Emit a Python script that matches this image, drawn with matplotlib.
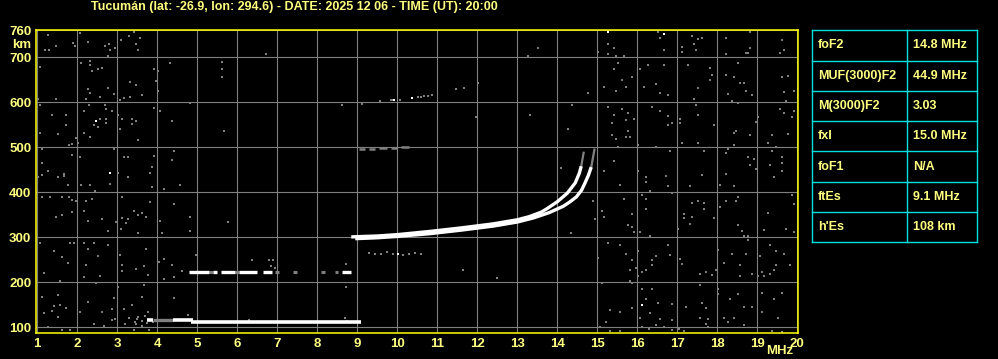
import matplotlib
matplotlib.use("Agg")
import matplotlib.pyplot as plt

# ---------------- data ----------------
title = "Tucumán (lat: -26.9, lon: 294.6) - DATE: 2025 12 06 - TIME (UT): 20:00"

freq_ticks = list(range(1, 21))
height_ticks = [100, 200, 300, 400, 500, 600, 700, 760]

param_names = ["foF2", "MUF(3000)F2", "M(3000)F2", "fxI", "foF1", "ftEs", "h'Es"]
param_values = ["14.8 MHz", "44.9 MHz", "3.03", "15.0 MHz", "N/A", "9.1 MHz", "108 km"]

# F2 trace, ordinary and extraordinary components
o_freq = [8.85, 9.5, 10.0, 10.8, 11.6, 12.4, 13.0, 13.3, 13.6, 13.75, 14.0, 14.25, 14.45, 14.55, 14.6]
o_height = [301, 303, 306, 313, 321, 330, 339, 346, 356, 364, 379, 398, 421, 442, 458]
x_freq = [8.95, 9.5, 10.0, 10.8, 11.6, 12.4, 13.0, 13.4, 13.8, 14.15, 14.32, 14.48, 14.61, 14.69, 14.78, 14.85]
x_height = [297, 299, 302, 308, 316, 325, 334, 343, 355, 369, 379, 390, 405, 420, 438, 456]
# faint tops of the cusps
cusp_freq = [[14.6, 14.66], [14.85, 14.93]]
cusp_height = [[458, 488], [456, 495]]

# Es / E traces (white segments)
e_start = [3.75, 4.4, 4.85]
e_end = [3.9, 4.9, 9.1]
e_height = [116, 116, 111]
e_grey_start = [3.9]
e_grey_end = [4.4]
e_grey_height = [117]

# second Es echo around 222 km
es2_start = [4.8, 5.4, 5.6, 6.05, 6.65, 8.63]
es2_end = [5.3, 5.5, 5.95, 6.5, 6.87, 8.85]
es2_grey_start = [5.3, 5.95, 6.95, 7.4, 8.1, 8.45]
es2_grey_end = [5.4, 6.05, 7.05, 7.5, 8.2, 8.52]
es2_height = 222

# faint F2 multiples
f2m_start = [9.05, 9.3, 9.55, 9.85, 10.1]
f2m_end = [9.2, 9.45, 9.75, 10.0, 10.3]
f2m_height = [497, 497, 498, 499, 500]
f3m_freq = [9.85, 9.9, 10.08, 10.51, 10.6, 10.68, 10.78, 10.88]
f3m_height = [605, 605, 605, 612, 613, 615, 615, 616]
ghost_freq = [9.3, 9.45, 9.6, 9.75, 9.9, 10.15, 10.3, 10.45, 10.6]
ghost_height = [265, 262, 262, 268, 262, 260, 262, 266, 262]

white_dots = [(2.48, 559), (2.83, 443), (16.13, 150), (16.67, 752), (15.28, 757),
              (9.93, 605), (10.38, 610), (10.03, 262)]

noise_pts = [
    (1.28, 750), (1.19, 717), (1.29, 717), (1.48, 726), (1.89, 733), (1.94, 726), (2.07, 754),
    (2.28, 735), (2.69, 726), (2.79, 730), (2.83, 717), (2.78, 704), (2.94, 721), (3.09, 739),
    (3.29, 748), (3.43, 757), (3.58, 743), (3.48, 730), (3.53, 717), (1.08, 679), (2.09, 688),
    (2.33, 693), (2.33, 684), (2.38, 670), (2.51, 675), (2.63, 677), (3.33, 646), (3.48, 639),
    (2.78, 632), (2.28, 630), (2.33, 621), (2.93, 619), (2.58, 612), (2.21, 607), (3.08, 606),
    (3.18, 610), (3.33, 611), (3.63, 617), (3.93, 674), (4.03, 670), (3.98, 648), (4.03, 625),
    (4.33, 688), (1.03, 607), (1.48, 607), (1.08, 594), (1.38, 572), (1.73, 572), (1.73, 550),
    (1.53, 530), (1.08, 532), (1.98, 520), (1.88, 507), (1.79, 505), (2.02, 510), (2.18, 581),
    (2.29, 594), (2.69, 594), (2.73, 585), (2.88, 581), (2.73, 564), (2.73, 554), (2.58, 563),
    (2.43, 550), (2.53, 545), (2.18, 532), (2.33, 524), (3.03, 572), (3.13, 563), (3.38, 563),
    (3.38, 552), (3.48, 559), (3.08, 541), (3.53, 516), (3.93, 587), (4.08, 581), (4.38, 559),
    (4.83, 599), (1.13, 496), (1.13, 465), (1.28, 447), (1.13, 439), (1.03, 434), (1.53, 434),
    (1.68, 441), (1.68, 436), (1.88, 483), (2.08, 479), (2.93, 496), (3.18, 479), (3.28, 479),
    (3.03, 443), (3.28, 434), (3.93, 481), (3.88, 456), (3.83, 443), (4.43, 492), (4.38, 473),
    (1.78, 417), (2.09, 417), (2.33, 417), (2.83, 419), (3.88, 411), (4.18, 408), (4.58, 417),
    (2.44, 404), (1.13, 390), (1.33, 390), (1.63, 390), (1.79, 389), (1.88, 384), (1.98, 381),
    (2.23, 381), (2.38, 386), (3.13, 390), (3.83, 379), (4.43, 373), (1.48, 346), (1.63, 349),
    (1.88, 357), (2.18, 359), (2.28, 337), (2.63, 341), (2.78, 315), (2.96, 335), (3.13, 344),
    (3.23, 331), (3.28, 341), (3.09, 319), (3.43, 359), (3.53, 350), (3.63, 355), (3.73, 346),
    (3.53, 310), (4.08, 337), (4.13, 310), (4.83, 346), (4.83, 315), (1.08, 288), (1.43, 270),
    (1.63, 257), (1.83, 287), (1.93, 288), (2.18, 288), (2.28, 274), (2.43, 288), (2.53, 258),
    (2.78, 284), (1.78, 244), (1.18, 221), (2.23, 239), (2.18, 212), (2.58, 214), (3.08, 261),
    (3.13, 239), (3.13, 226), (3.48, 230), (3.68, 236), (3.73, 273), (3.78, 217), (4.04, 245),
    (4.18, 252), (4.18, 208), (4.38, 239), (4.43, 212), (4.63, 226), (1.58, 204), (2.48, 199),
    (3.03, 190), (3.68, 195), (1.13, 168), (1.53, 172), (1.43, 147), (1.18, 131), (1.38, 137),
    (1.58, 150), (1.73, 144), (1.53, 124), (2.08, 135), (2.28, 156), (2.63, 135), (2.88, 141),
    (2.93, 166), (3.18, 141), (3.38, 149), (3.63, 168), (3.78, 134), (3.53, 124), (4.43, 166),
    (4.78, 128), (1.28, 100), (1.63, 94), (1.83, 94), (2.43, 107), (2.68, 104), (2.88, 116),
    (3.19, 107), (3.46, 107), (3.63, 104), (3.43, 94), (3.79, 94), (3.45, 112), (3.5, 118),
    (3.3, 120), (3.7, 125), (3.9, 112), (2.95, 119), (3.62, 113), (3.74, 110), (4.1, 117),
    (15.28, 730), (15.43, 721), (15.03, 713), (15.28, 708), (15.48, 704), (15.68, 704),
    (16.52, 757), (16.58, 744), (16.68, 717), (17.13, 723), (17.13, 713), (17.38, 748),
    (17.43, 729), (17.53, 741), (17.63, 744), (17.48, 717), (18.23, 744), (18.23, 708),
    (18.71, 710), (18.76, 710), (18.83, 721), (18.83, 757), (19.63, 739), (19.68, 717),
    (19.58, 710), (15.53, 687), (15.43, 675), (15.63, 650), (15.88, 656), (15.18, 634),
    (15.48, 625), (15.73, 634), (16.08, 674), (16.28, 684), (16.68, 684), (16.18, 634),
    (16.48, 641), (16.58, 621), (16.78, 616), (17.28, 684), (17.83, 677), (17.83, 650),
    (17.88, 661), (17.53, 631), (17.43, 607), (18.23, 661), (18.43, 656), (18.52, 687),
    (18.58, 643), (18.68, 643), (18.28, 619), (18.73, 625), (18.88, 616), (18.38, 603),
    (18.53, 599), (19.63, 656), (19.78, 659), (19.68, 624), (19.93, 625), (19.73, 603),
    (15.28, 590), (15.43, 572), (15.63, 585), (15.78, 576), (15.73, 561), (15.38, 554),
    (15.93, 563), (15.78, 537), (15.38, 527), (15.48, 519), (15.73, 523), (15.83, 523),
    (16.38, 590), (16.58, 581), (16.78, 570), (16.88, 554), (16.78, 550), (17.08, 563),
    (17.08, 554), (17.53, 572), (17.48, 594), (17.93, 550), (17.13, 510), (17.53, 510),
    (18.43, 532), (18.48, 537), (18.83, 527), (18.43, 506), (19.03, 567), (18.98, 557),
    (19.58, 585), (19.68, 576), (19.88, 567), (19.93, 580), (19.38, 527), (19.28, 510),
    (19.78, 530), (16.03, 506), (15.53, 501), (15.43, 470), (15.18, 447), (16.03, 447),
    (16.23, 434), (16.73, 437), (16.83, 492), (16.48, 501), (17.68, 492), (17.63, 438),
    (18.23, 488), (18.28, 496), (18.23, 441), (18.78, 479), (18.93, 475), (18.83, 461),
    (19.38, 492), (19.48, 501), (19.63, 479), (19.63, 466), (19.63, 447), (19.33, 461),
    (19.43, 434), (18.98, 452), (15.58, 417), (16.23, 424), (16.33, 404), (16.78, 413),
    (16.88, 398), (17.33, 413), (18.08, 417), (18.43, 413), (16.13, 395), (16.23, 386),
    (15.68, 386), (15.13, 358), (15.18, 346), (15.88, 351), (15.78, 327), (15.88, 324),
    (15.93, 311), (16.08, 311), (16.23, 362), (16.33, 303), (17.03, 318), (17.18, 351),
    (17.18, 342), (17.38, 345), (17.33, 329), (17.38, 377), (17.53, 381), (17.68, 376),
    (17.68, 364), (17.93, 342), (18.08, 368), (18.23, 381), (18.48, 381), (18.53, 390),
    (18.53, 327), (18.63, 313), (18.68, 302), (18.78, 302), (18.78, 293), (19.18, 316),
    (19.28, 353), (19.73, 318), (19.88, 395), (19.93, 374), (19.93, 311), (15.28, 288),
    (15.58, 284), (15.73, 262), (15.03, 254), (15.88, 250), (15.83, 228), (15.98, 232),
    (16.03, 270), (16.03, 214), (16.13, 223), (16.23, 228), (16.38, 250), (16.38, 239),
    (16.48, 258), (16.78, 284), (16.83, 261), (17.08, 252), (17.13, 241), (17.58, 218),
    (17.73, 223), (17.88, 216), (17.98, 227), (18.03, 271), (18.18, 244), (18.38, 262),
    (18.58, 239), (18.58, 214), (18.73, 262), (18.88, 218), (19.03, 214), (19.08, 259),
    (19.13, 223), (19.18, 214), (19.33, 218), (19.33, 284), (19.48, 270), (19.43, 228),
    (19.48, 239), (19.68, 262), (19.83, 239), (15.13, 199), (15.83, 203), (15.88, 199),
    (16.13, 186), (16.23, 164), (16.38, 186), (16.53, 155), (16.88, 152), (17.23, 146),
    (17.58, 195), (17.63, 153), (17.73, 142), (18.03, 186), (18.03, 175), (18.33, 164),
    (18.53, 173), (18.68, 146), (18.88, 146), (19.13, 176), (19.43, 164), (19.63, 176),
    (15.33, 138), (15.58, 133), (15.88, 142), (16.33, 132), (16.08, 120), (16.13, 100),
    (16.58, 118), (16.48, 105), (16.88, 116), (16.68, 100), (17.58, 120), (17.78, 118),
    (17.78, 100), (18.18, 120), (18.28, 111), (18.43, 120), (18.68, 105), (19.13, 133),
    (19.53, 120), (15.23, 111), (15.08, 100), (15.33, 91), (15.58, 91), (16.88, 93),
    (17.18, 91), (19.38, 91), (19.63, 89), (16.3, 96), (17.05, 96), (17.72, 108),
    (6.73, 708), (5.63, 690), (5.63, 674), (5.63, 656), (5.68, 537), (8.63, 594), (9.13, 596),
    (9.58, 603), (9.88, 605), (10.08, 605), (10.68, 615), (11.48, 630), (11.68, 633),
    (12.03, 644), (13.28, 704), (13.53, 721), (11.98, 567), (13.33, 572), (14.28, 540),
    (14.38, 594), (14.78, 620), (6.38, 249), (6.8, 249), (6.9, 249), (6.85, 236), (6.95, 232),
    (5.78, 334), (8.73, 240), (8.73, 190), (4.96, 260), (8.7, 120), (8.75, 114), (6.3, 116),
    (11.65, 228), (12.5, 210), (14.1, 455), (14.35, 310), (14.9, 380), (14.95, 340),
]

# ---------------- figure ----------------
W, H = 998, 359
yellow = "#ffff80"
grey = "#808080"
fs = 9

plt.rcParams["font.family"] = ["Liberation Sans", "DejaVu Sans"]
plt.rcParams["font.weight"] = "bold"

fig = plt.figure(figsize=(W / 100, H / 100), dpi=100, facecolor="black")
ax = fig.add_axes([35.5 / W, (H - 332.7) / H, (798 - 35.5) / W, (332.7 - 29.5) / H])
ax.set_facecolor("black")
ax.set_xlim(0.955, 20.02)
ax.set_ylim(88, 762)

ax.set_xticks(freq_ticks)
ax.set_xticklabels([str(f) for f in freq_ticks])
ax.set_yticks(height_ticks)
ax.set_yticklabels([str(h) for h in height_ticks])
ax.tick_params(length=0, colors=yellow, labelsize=fs + 0.5)
ax.tick_params(axis="x", pad=3.5)
ax.tick_params(axis="y", pad=3)
ax.grid(True, color=grey, lw=0.8, zorder=1)
ax.set_axisbelow(True)
for sp in ax.spines.values():
    sp.set_color("#ffff00")
    sp.set_linewidth(1.1)

# noise
nf = [p[0] for p in noise_pts]
nh = [p[1] for p in noise_pts]
ax.scatter(nf, nh, marker="s", s=4.5, color=grey, linewidths=0, zorder=2)
ax.scatter(ghost_freq, ghost_height, marker="s", s=4.5, color=grey, linewidths=0, zorder=2)
ax.scatter(f3m_freq, f3m_height, marker="s", s=4.5, color=grey, linewidths=0, zorder=2)
ax.hlines(f2m_height, f2m_start, f2m_end, color=grey, lw=1.8, zorder=2)

# E / Es traces
ax.hlines(e_grey_height, e_grey_start, e_grey_end, color=grey, lw=2.4, zorder=3)
ax.hlines(e_height, e_start, e_end, color="white", lw=2.6, zorder=4)
ax.hlines([es2_height] * len(es2_grey_start), es2_grey_start, es2_grey_end, color=grey, lw=2.2, zorder=3)
ax.hlines([es2_height] * len(es2_start), es2_start, es2_end, color="white", lw=2.4, zorder=4)

# F2 trace
ax.plot(o_freq, o_height, color="white", lw=2.4, solid_capstyle="butt", zorder=4)
ax.plot(x_freq, x_height, color="white", lw=2.4, solid_capstyle="butt", zorder=4)
for cf, ch in zip(cusp_freq, cusp_height):
    ax.plot(cf, ch, color=grey, lw=1.6, zorder=3)

ax.scatter([p[0] for p in white_dots], [p[1] for p in white_dots], marker="s", s=4.5,
           color="white", linewidths=0, zorder=4)

# texts
fig.text(91 / W, 1 - 7 / H, title, color=yellow, fontsize=fs, ha="left", va="center")
fig.text(31 / W, 1 - 45 / H, "km", color=yellow, fontsize=fs + 0.5, ha="right", va="center")
fig.text(780 / W, 1 - 351.5 / H, "MHz", color=yellow, fontsize=fs + 0.5, ha="center", va="center")

# parameter table
tab = fig.add_axes([812 / W, (H - 242.3) / H, (977 - 812) / W, (242.3 - 30.3) / H])
tab.set_xlim(0, 1)
tab.set_ylim(0, len(param_names))
tab.axis("off")
cyan = "#00e0e0"
n = len(param_names)
for i in range(n + 1):
    tab.plot([0, 1], [i, i], color=cyan, lw=1.0, clip_on=False)
tab.plot([0, 0], [0, n], color=cyan, lw=1.0, clip_on=False)
tab.plot([1, 1], [0, n], color=cyan, lw=1.0, clip_on=False)
tab.plot([0.576, 0.576], [0, n], color=cyan, lw=1.0, clip_on=False)
for i, (name, val) in enumerate(zip(param_names, param_values)):
    yc = n - i - 0.5
    tab.text(0.035, yc, name, color=yellow, fontsize=fs, ha="left", va="center")
    tab.text(0.61, yc, val, color=yellow, fontsize=fs, ha="left", va="center")

fig.savefig("out.png", dpi=100, facecolor="black")
